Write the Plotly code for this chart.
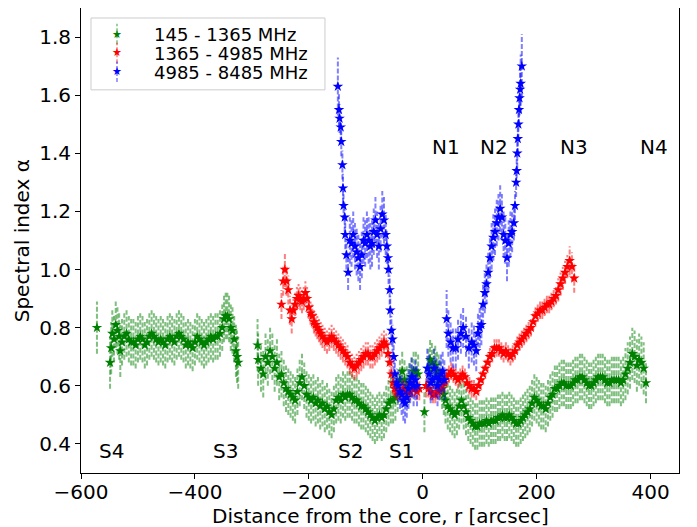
import plotly.graph_objects as go

# ---- data ---------------------------------------------------------------
# 145 - 1365 MHz
green_x = [
    -572, -549, -547, -545, -542, -539, -536, -533, -531, -528,
    -524, -520, -516, -512, -508, -504, -500, -496, -492, -488,
    -484, -480, -476, -472, -468, -464, -460, -456, -452, -448,
    -444, -440, -436, -432, -428, -424, -420, -416, -412, -408,
    -404, -400, -396, -392, -388, -384, -380, -376, -372, -368,
    -364, -360, -356, -352, -349, -346, -343, -340, -337, -334,
    -331, -328, -326, -324,
    -290, -289, -284, -280, -276, -272, -268, -264, -260, -256,
    -252, -248, -244, -240, -236, -232, -228, -224, -220, -216,
    -212, -208, -204, -200, -196, -192, -188, -184, -180, -176,
    -172, -168, -164, -160, -156, -152, -148, -144, -140, -136,
    -132, -128, -124, -120, -116, -112, -108, -104, -100, -96,
    -92, -88, -84, -80, -76, -72, -68, -64, -60, -56,
    -52, -48,
    -44, -40, -36, -32, -28, -24, -20, -16, -12, -8,
    3, 10, 13, 16, 19, 22, 25, 28, 31, 34,
    37, 40,
    44, 48, 52, 56, 60, 64, 68, 72, 76, 80,
    84, 88, 92, 96, 100, 104, 108, 112, 116, 120,
    124, 128, 132, 136, 140, 144, 148, 152, 156, 160,
    164, 168, 172, 176, 180, 184, 188, 192, 196, 200,
    204, 208, 212, 216, 220, 224, 228, 232, 236, 240,
    244, 248, 252, 256, 260, 264, 268, 272, 276, 280,
    284, 288, 292, 296, 300, 304, 308, 312, 316, 320,
    324, 328, 332, 336, 340, 344, 348, 352, 356, 360,
    364, 368, 372, 376, 380, 384, 388, 392,
]
green_y = [
    0.80, 0.68, 0.73, 0.78, 0.76, 0.81, 0.79, 0.77, 0.72, 0.75,
    0.77, 0.78, 0.76, 0.75, 0.75, 0.74, 0.76, 0.77, 0.76, 0.74,
    0.75, 0.77, 0.78, 0.77, 0.76, 0.75, 0.76, 0.75, 0.74, 0.76,
    0.77, 0.76, 0.75, 0.77, 0.78, 0.77, 0.76, 0.74, 0.75, 0.74,
    0.73, 0.75, 0.77, 0.76, 0.75, 0.74, 0.75, 0.76, 0.77, 0.76,
    0.77, 0.77, 0.78, 0.80, 0.83, 0.84, 0.84, 0.83, 0.80, 0.79,
    0.76, 0.72, 0.70, 0.68,
    0.74, 0.69, 0.66, 0.64, 0.70, 0.68, 0.72, 0.70, 0.66, 0.68,
    0.63, 0.64, 0.61, 0.59, 0.58, 0.57, 0.56, 0.55, 0.58, 0.61,
    0.63, 0.60, 0.57, 0.56, 0.55, 0.56, 0.54, 0.55, 0.53, 0.54,
    0.52, 0.53, 0.51, 0.50, 0.52, 0.55, 0.56, 0.55, 0.57, 0.56,
    0.57, 0.57, 0.56, 0.55, 0.55, 0.54, 0.53, 0.53, 0.52, 0.51,
    0.50, 0.49, 0.48, 0.49, 0.50, 0.49, 0.50, 0.52, 0.54, 0.55,
    0.55, 0.56,
    0.58, 0.62, 0.65, 0.62, 0.60, 0.61, 0.63, 0.65, 0.65, 0.64,
    0.51, 0.66, 0.69, 0.68, 0.66, 0.67, 0.65, 0.64, 0.62, 0.59,
    0.57, 0.55,
    0.53, 0.52, 0.51, 0.50, 0.51, 0.53, 0.55, 0.53, 0.51, 0.49,
    0.48, 0.47, 0.46, 0.46, 0.47, 0.47, 0.47, 0.48, 0.47, 0.48,
    0.48, 0.48, 0.49, 0.49, 0.50, 0.49, 0.49, 0.50, 0.49, 0.48,
    0.47, 0.47, 0.48, 0.49, 0.50, 0.51, 0.52, 0.54, 0.56, 0.55,
    0.54, 0.53, 0.53, 0.52, 0.54, 0.56, 0.57, 0.59, 0.59, 0.60,
    0.61, 0.61, 0.60, 0.60, 0.60, 0.61, 0.62, 0.62, 0.63, 0.63,
    0.62, 0.61, 0.60, 0.60, 0.61, 0.62, 0.63, 0.63, 0.63, 0.62,
    0.61, 0.61, 0.62, 0.62, 0.62, 0.62, 0.61, 0.62, 0.64, 0.66,
    0.68, 0.71, 0.70, 0.67, 0.69, 0.68, 0.66, 0.61,
]
green_err = [
    0.09, 0.09, 0.09, 0.08, 0.08, 0.08, 0.08, 0.08, 0.09, 0.08,
    0.08, 0.08, 0.08, 0.08, 0.08, 0.08, 0.08, 0.08, 0.08, 0.08,
    0.08, 0.08, 0.08, 0.08, 0.08, 0.08, 0.08, 0.08, 0.08, 0.08,
    0.08, 0.08, 0.08, 0.08, 0.08, 0.08, 0.08, 0.08, 0.08, 0.08,
    0.08, 0.08, 0.08, 0.08, 0.08, 0.08, 0.08, 0.08, 0.08, 0.08,
    0.08, 0.08, 0.08, 0.08, 0.08, 0.08, 0.08, 0.08, 0.08, 0.08,
    0.08, 0.09, 0.09, 0.09,
    0.09, 0.09, 0.08, 0.08, 0.08, 0.08, 0.08, 0.08, 0.08, 0.08,
    0.08, 0.08, 0.08, 0.08, 0.08, 0.08, 0.08, 0.08, 0.08, 0.08,
    0.08, 0.08, 0.08, 0.08, 0.08, 0.08, 0.08, 0.08, 0.08, 0.08,
    0.08, 0.08, 0.08, 0.08, 0.08, 0.08, 0.08, 0.08, 0.08, 0.08,
    0.08, 0.08, 0.08, 0.08, 0.08, 0.08, 0.08, 0.08, 0.08, 0.08,
    0.08, 0.08, 0.08, 0.08, 0.08, 0.08, 0.08, 0.08, 0.08, 0.08,
    0.08, 0.08,
    0.07, 0.07, 0.07, 0.07, 0.07, 0.07, 0.07, 0.07, 0.07, 0.07,
    0.07, 0.07, 0.07, 0.07, 0.07, 0.07, 0.07, 0.07, 0.07, 0.07,
    0.07, 0.08,
    0.08, 0.08, 0.08, 0.08, 0.08, 0.08, 0.08, 0.08, 0.08, 0.08,
    0.08, 0.08, 0.08, 0.08, 0.08, 0.08, 0.08, 0.08, 0.08, 0.08,
    0.08, 0.08, 0.08, 0.08, 0.08, 0.08, 0.08, 0.08, 0.08, 0.08,
    0.08, 0.08, 0.08, 0.08, 0.08, 0.08, 0.08, 0.08, 0.08, 0.08,
    0.08, 0.08, 0.08, 0.08, 0.08, 0.08, 0.08, 0.08, 0.08, 0.08,
    0.08, 0.08, 0.08, 0.08, 0.08, 0.08, 0.08, 0.08, 0.08, 0.08,
    0.08, 0.08, 0.08, 0.08, 0.08, 0.08, 0.08, 0.08, 0.08, 0.08,
    0.08, 0.08, 0.08, 0.08, 0.08, 0.08, 0.08, 0.08, 0.09, 0.09,
    0.09, 0.09, 0.09, 0.09, 0.09, 0.09, 0.09, 0.07,
]

# 1365 - 4985 MHz
red_x = [
    -248, -245, -242, -239, -236, -233, -230, -227, -224, -221,
    -218, -215, -212, -209, -206, -203, -200, -197, -194, -191,
    -188, -185, -182, -179, -176, -172, -168, -164, -160, -156,
    -152, -148, -144, -140, -136, -132, -128, -124, -120, -116,
    -112, -108, -104, -100, -96, -92, -88, -84, -80, -76,
    -72, -68, -64, -61, -58, -55, -52, -49, -46, -42,
    -38, -34, -30, -26, -22, -18, -14, -10, -6, 6,
    10, 14, 18, 22, 26, 30, 34, 38, 42, 46,
    50, 54, 58, 62, 66, 70, 74, 78, 82, 86,
    90, 94, 98, 102, 106, 110, 114, 118, 122, 126,
    130, 134, 138, 142, 146, 150, 154, 158, 162, 166,
    170, 174, 178, 182, 186, 190, 194, 198, 202, 206,
    210, 214, 218, 222, 226, 230, 234, 238, 242, 246,
    250, 254, 258, 262, 266,
]
red_y = [
    0.88, 0.96, 1.00, 0.96, 0.93, 0.86, 0.83, 0.86, 0.88, 0.90,
    0.91, 0.90, 0.89, 0.90, 0.92, 0.90, 0.87, 0.85, 0.84, 0.82,
    0.81, 0.80, 0.79, 0.78, 0.77, 0.76, 0.75, 0.76, 0.77, 0.76,
    0.75, 0.74, 0.73, 0.72, 0.71, 0.70, 0.68, 0.67, 0.66, 0.67,
    0.68, 0.69, 0.70, 0.71, 0.71, 0.70, 0.70, 0.71, 0.72, 0.73,
    0.74, 0.75, 0.74, 0.71, 0.68, 0.64, 0.61, 0.59, 0.58, 0.58,
    0.58, 0.59, 0.58, 0.58, 0.58, 0.59, 0.59, 0.58, 0.59, 0.60,
    0.59, 0.58, 0.57, 0.57, 0.58, 0.59, 0.60, 0.61, 0.63, 0.64,
    0.65, 0.64, 0.63, 0.62, 0.63, 0.64, 0.63, 0.61, 0.60, 0.59,
    0.59, 0.58, 0.60, 0.62, 0.64, 0.66, 0.68, 0.70, 0.71, 0.73,
    0.73, 0.73, 0.72, 0.71, 0.72, 0.71, 0.70, 0.71, 0.72, 0.74,
    0.75, 0.76, 0.77, 0.78, 0.79, 0.80, 0.82, 0.84, 0.85, 0.86,
    0.86, 0.87, 0.88, 0.88, 0.89, 0.90, 0.91, 0.93, 0.95, 0.97,
    0.99, 1.01, 1.03, 1.01, 0.97,
]
red_err = [
    0.05, 0.05, 0.06, 0.05, 0.05, 0.05, 0.05, 0.04, 0.04, 0.04,
    0.04, 0.04, 0.04, 0.04, 0.04, 0.04, 0.04, 0.04, 0.04, 0.04,
    0.04, 0.04, 0.04, 0.04, 0.04, 0.04, 0.04, 0.04, 0.04, 0.04,
    0.04, 0.04, 0.04, 0.04, 0.04, 0.04, 0.04, 0.04, 0.04, 0.04,
    0.04, 0.04, 0.04, 0.04, 0.04, 0.04, 0.04, 0.04, 0.04, 0.04,
    0.04, 0.04, 0.04, 0.04, 0.04, 0.04, 0.04, 0.03, 0.03, 0.03,
    0.03, 0.03, 0.03, 0.03, 0.03, 0.03, 0.03, 0.03, 0.04, 0.04,
    0.03, 0.03, 0.03, 0.03, 0.03, 0.03, 0.03, 0.03, 0.03, 0.03,
    0.03, 0.03, 0.03, 0.03, 0.03, 0.03, 0.03, 0.03, 0.03, 0.03,
    0.03, 0.03, 0.03, 0.03, 0.03, 0.03, 0.03, 0.03, 0.03, 0.03,
    0.03, 0.03, 0.03, 0.03, 0.03, 0.03, 0.03, 0.03, 0.03, 0.03,
    0.03, 0.03, 0.03, 0.03, 0.03, 0.03, 0.03, 0.03, 0.03, 0.03,
    0.03, 0.03, 0.03, 0.03, 0.03, 0.03, 0.03, 0.04, 0.04, 0.04,
    0.04, 0.04, 0.05, 0.05, 0.05,
]

# 4985 - 8485 MHz
blue_x = [
    -149, -147, -146, -144, -143, -141, -140, -139, -137, -136,
    -134, -131, -128, -125, -122, -119, -116, -113, -110, -107,
    -104, -101, -98, -95, -92, -89, -86, -83, -80, -77,
    -74, -71, -68, -65, -63, -61, -60, -58, -57, -55,
    -53, -51, -49, -46, -43, -40, -37, -34, -31, -28,
    -25, -22, -19, -16, -13, -10, 8, 11, 14, 17,
    20, 23, 26, 29, 32, 35, 38, 42, 45, 49,
    53, 58, 62, 67, 71, 76, 81, 86, 90, 94,
    97, 100, 103, 106, 109, 112, 115, 118, 121, 124,
    127, 130, 133, 136, 139, 142, 145, 148, 151, 154,
    157, 160, 162, 164, 165, 166, 167, 168, 169, 170,
    171, 172, 174,
]
blue_y = [
    1.63, 1.55, 1.52, 1.49, 1.44, 1.36, 1.28, 1.22, 1.18, 1.12,
    1.05, 0.99, 1.10, 1.09, 1.12, 1.08, 1.06, 1.04, 1.01, 1.05,
    1.10, 1.09, 1.12, 1.10, 1.08, 1.09, 1.13, 1.17, 1.12, 1.08,
    1.14, 1.19, 1.17, 1.12, 1.08, 1.04, 1.00, 0.93, 0.86, 0.79,
    0.76, 0.70, 0.64, 0.61, 0.60, 0.58, 0.57, 0.55, 0.54, 0.56,
    0.59, 0.61, 0.63, 0.60, 0.62, 0.60, 0.66, 0.64, 0.61, 0.62,
    0.66, 0.63, 0.60, 0.62, 0.64, 0.65, 0.62, 0.83, 0.78, 0.75,
    0.73, 0.73, 0.76, 0.78, 0.80, 0.77, 0.73, 0.75, 0.74, 0.72,
    0.78, 0.80, 0.81, 0.88, 0.92, 0.95, 0.99, 1.04, 1.08, 1.11,
    1.13, 1.16, 1.18, 1.21, 1.18, 1.12, 1.10, 1.04, 1.09, 1.12,
    1.13, 1.16, 1.22, 1.30, 1.34, 1.40, 1.45, 1.50, 1.55, 1.59,
    1.62, 1.64, 1.70,
]
blue_err = [
    0.10, 0.06, 0.05, 0.05, 0.05, 0.05, 0.05, 0.05, 0.05, 0.05,
    0.05, 0.06, 0.08, 0.08, 0.08, 0.08, 0.08, 0.08, 0.08, 0.08,
    0.08, 0.08, 0.08, 0.08, 0.08, 0.08, 0.08, 0.08, 0.08, 0.08,
    0.08, 0.08, 0.08, 0.07, 0.06, 0.05, 0.05, 0.05, 0.05, 0.05,
    0.05, 0.05, 0.05, 0.05, 0.06, 0.06, 0.07, 0.07, 0.07, 0.07,
    0.07, 0.07, 0.07, 0.07, 0.07, 0.07, 0.07, 0.07, 0.07, 0.07,
    0.07, 0.07, 0.07, 0.07, 0.07, 0.07, 0.07, 0.10, 0.08, 0.07,
    0.07, 0.07, 0.07, 0.07, 0.07, 0.07, 0.07, 0.07, 0.07, 0.07,
    0.07, 0.07, 0.07, 0.07, 0.07, 0.07, 0.07, 0.07, 0.08, 0.08,
    0.08, 0.08, 0.08, 0.08, 0.08, 0.08, 0.08, 0.08, 0.08, 0.08,
    0.07, 0.06, 0.05, 0.05, 0.05, 0.05, 0.05, 0.05, 0.05, 0.06,
    0.08, 0.10, 0.11,
]

series_names = ['145 - 1365 MHz', '1365 - 4985 MHz', '4985 - 8485 MHz']
region_labels = ['S4', 'S3', 'S2', 'S1', 'N1', 'N2', 'N3', 'N4']
region_r = [-547, -347, -127, -37, 40, 126, 265, 406]
region_alpha = [0.374, 0.374, 0.374, 0.374, 1.423, 1.423, 1.423, 1.423]

x_ticks = [-600, -400, -200, 0, 200, 400]
y_ticks = [0.4, 0.6, 0.8, 1.0, 1.2, 1.4, 1.6, 1.8]


def err_segments(xs, ys, es):
    # vertical error bar segments, separated by None so one trace draws them all
    sx, sy = [], []
    for x, y, e in zip(xs, ys, es):
        sx += [x, x, None]
        sy += [y - e, y + e, None]
    return sx, sy


fig = go.Figure()

series = [
    (green_x, green_y, green_err, 'green', 'rgba(0,128,0,0.5)'),
    (red_x, red_y, red_err, 'red', 'rgba(255,0,0,0.5)'),
    (blue_x, blue_y, blue_err, 'blue', 'rgba(0,0,255,0.5)'),
]
for xs, ys, es, col, ecol in series:
    assert len(xs) == len(ys) == len(es), (col, len(xs), len(ys), len(es))
    sx, sy = err_segments(xs, ys, es)
    fig.add_trace(go.Scatter(
        x=sx, y=sy, mode='lines',
        line=dict(color=ecol, width=2, dash='5px,2px'),
        hoverinfo='skip', showlegend=False))
    fig.add_trace(go.Scatter(
        x=xs, y=ys, mode='markers', showlegend=False,
        marker=dict(symbol='star', size=8, color=col, line=dict(width=0))))

for lab, r, a in zip(region_labels, region_r, region_alpha):
    fig.add_annotation(x=r, y=a, text=lab, showarrow=False,
                       font=dict(size=20, color='black'))

# hand-made legend (matplotlib-like: tight rows, dashed errorbar through star)
fig.add_shape(type='rect', xref='paper', yref='paper',
              x0=0.0167, x1=0.408, y0=0.824, y1=0.9785,
              line=dict(color='#cccccc', width=1),
              fillcolor='rgba(255,255,255,0.8)', layer='above')
row_y = [0.944, 0.9034, 0.8627]
for (xs, ys, es, col, ecol), name, yy in zip(series, series_names, row_y):
    fig.add_shape(type='line', xref='paper', yref='paper',
                  x0=0.0602, x1=0.0602, y0=yy - 0.022, y1=yy + 0.022,
                  line=dict(color=ecol, width=1.5, dash='4px,2px'),
                  layer='above')
    fig.add_annotation(xref='paper', yref='paper', x=0.0602, y=yy,
                       xanchor='center', yanchor='middle',
                       text='★', showarrow=False,
                       font=dict(size=11, color=col))
    fig.add_annotation(xref='paper', yref='paper', x=0.1204, y=yy,
                       xanchor='left', yanchor='middle', height=18,
                       borderpad=0, text=name, showarrow=False,
                       font=dict(size=18, color='black'))

# axis titles placed by hand so the margins stay fixed
fig.add_annotation(xref='paper', yref='paper', x=0.5, y=-0.092,
                   xanchor='center', yanchor='middle',
                   text='Distance from the core, r [arcsec]',
                   showarrow=False, font=dict(size=20, color='black'))
fig.add_annotation(xref='paper', yref='paper', x=-0.099, y=0.5,
                   xanchor='center', yanchor='middle', textangle=-90,
                   text='Spectral index α',
                   showarrow=False, font=dict(size=20, color='black'))

# the page body adds an 8px offset, so the margins are shifted to compensate
fig.update_layout(
    width=697, height=527,
    margin=dict(l=73, r=26, t=0, b=62),
    plot_bgcolor='white', paper_bgcolor='white',
    font=dict(family='DejaVu Sans', size=20, color='black'),
    showlegend=False,
)
fig.update_xaxes(
    range=[-600, 450], tickvals=x_ticks, showgrid=False, zeroline=False,
    showline=True, mirror=True, linecolor='black', linewidth=1,
    ticks='outside', ticklen=5, tickcolor='black', automargin=False,
    ticklabelstandoff=-4)
fig.update_yaxes(
    range=[0.30, 1.90], tickvals=y_ticks, tickformat='.1f', showgrid=False,
    zeroline=False, showline=True, mirror=True, linecolor='black',
    linewidth=1, ticks='outside', ticklen=5, tickcolor='black',
    automargin=False)

fig.write_html('out.html')
